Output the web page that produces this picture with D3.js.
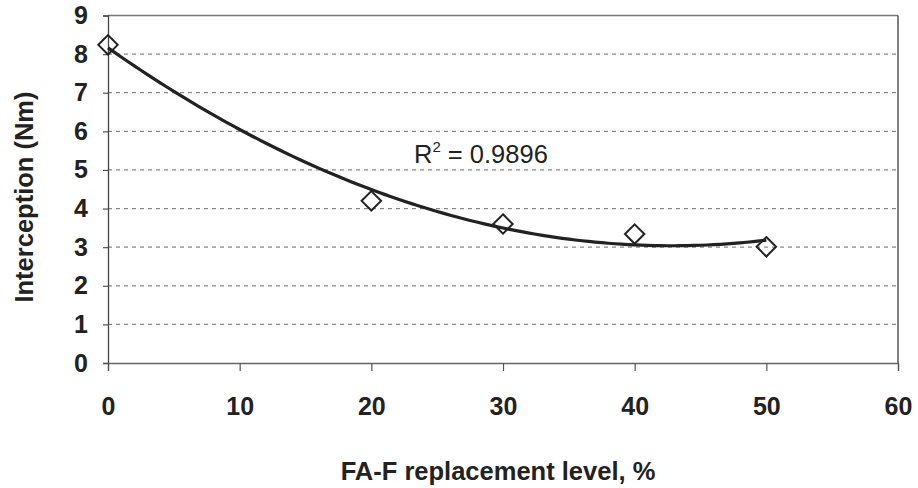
<!DOCTYPE html>
<html>
<head>
<meta charset="utf-8">
<script src="https://cdn.jsdelivr.net/npm/d3@7/dist/d3.min.js"></script>
<style>
  html, body { margin: 0; padding: 0; background: #fff; }
  svg { display: block; }
  text { font-family: Arial, "Liberation Sans", sans-serif; fill: #222; }
</style>
</head>
<body>
<svg id="chart" width="918" height="488"></svg>
<script>
// Measured interception at each FA-F replacement level
const replacementLevels = [0, 20, 30, 40, 50];
const interception = [8.24, 4.2, 3.6, 3.34, 3.01];

const xTicks = [0, 10, 20, 30, 40, 50, 60];
const yTicks = [0, 1, 2, 3, 4, 5, 6, 7, 8, 9];
const xTitle = "FA-F replacement level, %";
const yTitle = "Interception (Nm)";
const rSquaredLabel = "0.9896";

const svg = d3.select("#chart");
const plot = { left: 108, right: 898, top: 15.5, bottom: 363 };

const x = d3.scaleLinear().domain([0, 60]).range([plot.left, plot.right]);
const y = d3.scaleLinear().domain([0, 9]).range([plot.bottom, plot.top]);

// Horizontal dotted gridlines
svg.append("g")
  .selectAll("line")
  .data(yTicks.filter(v => v > 0 && v < 9))
  .join("line")
  .attr("x1", plot.left).attr("x2", plot.right)
  .attr("y1", d => y(d)).attr("y2", d => y(d))
  .attr("stroke", "#8a8a8a")
  .attr("stroke-width", 1.2)
  .attr("stroke-dasharray", "4,4");

// Plot frame: top and right edges
svg.append("line")
  .attr("x1", plot.left).attr("x2", plot.right)
  .attr("y1", y(9)).attr("y2", y(9))
  .attr("stroke", "#777").attr("stroke-width", 1.3);
svg.append("line")
  .attr("x1", plot.right).attr("x2", plot.right)
  .attr("y1", y(9)).attr("y2", y(0))
  .attr("stroke", "#555").attr("stroke-width", 1.5);

// X axis
const xAxis = svg.append("g")
  .attr("transform", `translate(0,${plot.bottom})`)
  .call(d3.axisBottom(x).tickValues(xTicks).tickSize(8).tickPadding(26));
xAxis.select(".domain").attr("stroke", "#666").attr("stroke-width", 1.3);
xAxis.selectAll(".tick line").attr("stroke", "#555").attr("stroke-width", 1.2);
xAxis.selectAll(".tick text")
  .attr("font-size", 25).attr("font-weight", "bold")
  .attr("fill", "#222")
  .style("font-family", "Arial, 'Liberation Sans', sans-serif");

// Y axis
const yAxis = svg.append("g")
  .attr("transform", `translate(${plot.left},0)`)
  .call(d3.axisLeft(y).tickValues(yTicks).tickSize(5).tickPadding(15));
yAxis.select(".domain").attr("stroke", "#444").attr("stroke-width", 1.3);
yAxis.selectAll(".tick line").attr("stroke", "#555").attr("stroke-width", 1.2);
yAxis.selectAll(".tick text")
  .attr("font-size", 25).attr("font-weight", "bold")
  .attr("fill", "#222")
  .style("font-family", "Arial, 'Liberation Sans', sans-serif");

// Second-order polynomial trendline (least squares)
function quadFit(xs, ys) {
  const s = k => d3.sum(xs, v => Math.pow(v, k));
  const t = k => d3.sum(xs, (v, i) => Math.pow(v, k) * ys[i]);
  const A = [[s(0), s(1), s(2)], [s(1), s(2), s(3)], [s(2), s(3), s(4)]];
  const b = [t(0), t(1), t(2)];
  // Gaussian elimination
  for (let i = 0; i < 3; i++) {
    for (let j = i + 1; j < 3; j++) {
      const f = A[j][i] / A[i][i];
      for (let k = i; k < 3; k++) A[j][k] -= f * A[i][k];
      b[j] -= f * b[i];
    }
  }
  const c = [0, 0, 0];
  for (let i = 2; i >= 0; i--) {
    let acc = b[i];
    for (let k = i + 1; k < 3; k++) acc -= A[i][k] * c[k];
    c[i] = acc / A[i][i];
  }
  return v => c[0] + c[1] * v + c[2] * v * v;
}
const fit = quadFit(replacementLevels, interception);
const trendX = d3.range(0, 50.01, 0.5);

svg.append("path")
  .datum(trendX)
  .attr("fill", "none")
  .attr("stroke", "#222")
  .attr("stroke-width", 3.2)
  .attr("stroke-linejoin", "round")
  .attr("d", d3.line().x(d => x(d)).y(d => y(fit(d))));

// Diamond markers
const diamond = d3.symbol().type(d3.symbolDiamond2).size(240);
svg.append("g")
  .selectAll("path")
  .data(replacementLevels.map((v, i) => ({ lvl: v, val: interception[i] })))
  .join("path")
  .attr("transform", d => `translate(${x(d.lvl)},${y(d.val)})`)
  .attr("d", diamond)
  .attr("fill", "none")
  .attr("stroke", "#222")
  .attr("stroke-width", 2);

// R-squared annotation
const rText = svg.append("text")
  .attr("x", 414).attr("y", 163)
  .attr("font-size", 25.5);
rText.append("tspan").text("R");
rText.append("tspan").attr("font-size", 15).attr("dy", -11).text("2");
rText.append("tspan").attr("dy", 11).text(" = " + rSquaredLabel);

// Axis titles
svg.append("text")
  .attr("x", 498).attr("y", 480)
  .attr("text-anchor", "middle")
  .attr("font-size", 25.5).attr("font-weight", "bold")
  .text(xTitle);

svg.append("text")
  .attr("transform", "translate(33,197) rotate(-90)")
  .attr("text-anchor", "middle")
  .attr("font-size", 25.5).attr("font-weight", "bold")
  .text(yTitle);
</script>
</body>
</html>
